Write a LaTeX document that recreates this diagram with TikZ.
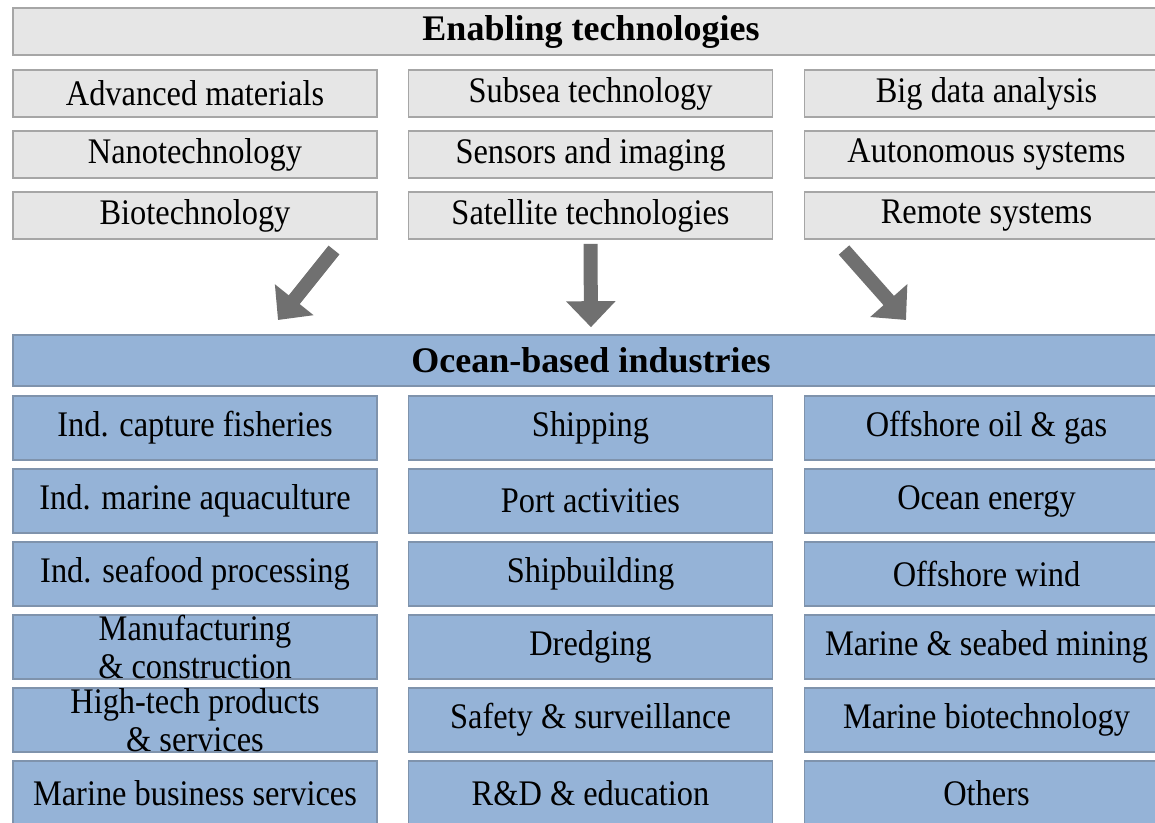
\documentclass[tikz,border=0pt]{standalone}
\usepackage{fontspec}
\setmainfont[FakeStretch=0.9]{Liberation Serif}
\newfontfamily\headfont{Liberation Serif}
\usetikzlibrary{arrows.meta}
\definecolor{techfill}{HTML}{E6E6E6}
\definecolor{techline}{HTML}{A6A6A6}
\definecolor{indfill}{HTML}{95B3D7}
\definecolor{indline}{HTML}{7F93AC}
\definecolor{arrowgray}{HTML}{707070}
\tikzset{
  techbox/.style={draw=techline, fill=techfill, line width=0.8pt, inner sep=0pt,
    minimum width=182pt, minimum height=23.5pt, font=\fontsize{18}{19}\selectfont},
  indbox/.style={draw=indline, fill=indfill, line width=0.8pt, inner sep=0pt, align=center,
    minimum width=182pt, minimum height=32pt, font=\fontsize{18}{19}\selectfont},
  headtext/.style={minimum width=578pt, font=\fontsize{18}{19}\headfont\bfseries},
  bigarrow/.style={arrowgray, line width=7pt, -{Triangle[width=24pt,length=13pt]}}
}
\begin{document}
\begin{tikzpicture}[x=0.5pt,y=-0.5pt]
\useasboundingbox (0,0) rectangle (1155,823);
\clip (0,0) rectangle (1155,823);
% enabling technologies
\node[techbox, headtext] (tech) at (591,31.5) {Enabling technologies};
\node[techbox] (adv) at (195,93.5) {Advanced materials};
\node[techbox] (nano) at (195,154.5) {Nanotechnology};
\node[techbox] (bio) at (195,215.5) {Biotechnology};
\node[techbox] (subsea) at (590.5,93.5) {Subsea technology};
\node[techbox] (sens) at (590.5,154.5) {Sensors and imaging};
\node[techbox] (sat) at (590.5,215.5) {Satellite technologies};
\node[techbox] (big) at (986.5,93.5) {Big data analysis};
\node[techbox] (auto) at (986.5,154.5) {Autonomous systems};
\node[techbox] (remote) at (986.5,215.5) {Remote systems};

% ocean-based industries
\node[indbox, headtext, minimum height=25.5pt] (ocean) at (591,360.5) {Ocean-based industries};
\node[indbox] (fish) at (195,428) {Ind. capture fisheries};
\node[indbox] (aqua) at (195,501) {Ind. marine aquaculture};
\node[indbox] (seafood) at (195,574) {Ind. seafood processing};
\node[indbox] (manu) at (195,647) {Manufacturing\\\& construction};
\node[indbox] (hightech) at (195,720) {High-tech products\\\& services};
\node[indbox] (business) at (195,793) {Marine business services};
\node[indbox] (ship) at (590.5,428) {Shipping};
\node[indbox] (port) at (590.5,501) {Port activities};
\node[indbox] (build) at (590.5,574) {Shipbuilding};
\node[indbox] (dredge) at (590.5,647) {Dredging};
\node[indbox] (safety) at (590.5,720) {Safety \& surveillance};
\node[indbox] (rd) at (590.5,793) {R\&D \& education};
\node[indbox] (oil) at (986.5,428) {Offshore oil \& gas};
\node[indbox] (energy) at (986.5,501) {Ocean energy};
\node[indbox] (wind) at (986.5,574) {Offshore wind};
\node[indbox] (mining) at (986.5,647) {Marine \& seabed mining};
\node[indbox] (marbio) at (986.5,720) {Marine biotechnology};
\node[indbox] (others) at (986.5,793) {Others};

% arrows
\coordinate (la) at (334,250);
\coordinate (lb) at (278,320);
\coordinate (ra) at (844,250);
\coordinate (rb) at (906,320);
\draw[bigarrow] (la) -- (lb);
\draw[bigarrow, shorten <=2pt, shorten >=3.5pt] (sat.south) -- (ocean.north);
\draw[bigarrow] (ra) -- (rb);
\end{tikzpicture}
\end{document}
